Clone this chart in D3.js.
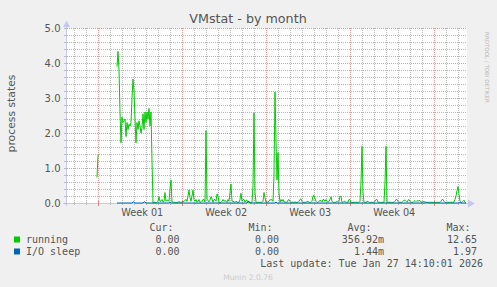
<!DOCTYPE html>
<html><head><meta charset="utf-8">
<script src="https://cdn.jsdelivr.net/npm/d3@7"></script>
<style>
html,body{margin:0;padding:0;background:#f0f0f0;}
svg{display:block;}
</style></head>
<body>
<svg id="chart" width="497" height="287"></svg>
<script>
// ---------- data ----------
const title = "VMstat - by month";
const yLabel = "process states";
const yTickValues = [0, 1, 2, 3, 4, 5];
const weekLabels = ["Week 01", "Week 02", "Week 03", "Week 04"];
const seriesNames = ["running", "I/O sleep"];
const seriesColors = ["#00cc00", "#0066b3"];
const legendHeaders = ["Cur:", "Min:", "Avg:", "Max:"];
const runningStats = ["0.00", "0.00", "356.92m", "12.65"];
const ioSleepStats = ["0.00", "0.00", "1.44m", "1.97"];
const lastUpdate = "Last update: Tue Jan 27 14:10:01 2026";
const footer = "Munin 2.0.76";
const sideText = "RRDTOOL / TOBI OETIKER";
// time window (UTC), one sample every 2 hours
const windowStart = new Date(Date.UTC(2025, 11, 26, 9, 24));
const windowEnd = new Date(Date.UTC(2026, 0, 28, 17, 24));
const dataStart = new Date(Date.UTC(2025, 11, 28, 21, 24));
const stepHours = 2;
const running = [
  0.73,1.36,1.37,null,null,null,null,null,null,null,
  null,null,null,null,null,null,null,null,null,null,
  3.9,4.33,3.8,2.6,1.72,2.45,2.3,2.35,2.4,1.9,
  2.3,2.1,2.25,2.2,2.3,3.0,3.54,3.2,2.4,1.72,
  2.3,2.1,2.35,2.2,2.0,2.15,2.55,2.1,2.6,2.3,
  2.6,2.4,2.7,2.2,2.6,1.2,0,0.02,0.02,0,
  0.02,0.05,0.18,0.04,0.06,0.1,0.03,0.05,0.3,0.05,
  0.08,0.08,0.05,0.4,0.66,0.03,0.02,0.02,0.02,0,
  0.02,0.02,0.04,0.02,0.02,0.03,0.05,0.04,0.08,0.1,
  0.05,0.2,0.37,0.15,0.05,0.2,0.37,0.1,0.05,0.1,
  0.02,0.05,0.1,0.02,0.02,0.05,0.1,0.1,0.03,2.07,
  0.1,0.08,0.03,0.08,0.18,0.12,0.02,0.1,0.1,0.05,
  0.26,0.2,0.02,0,0.02,0.05,0.1,0.05,0.07,0.05,
  0.02,0.1,0.05,0.3,0.54,0.05,0.05,0.03,0.02,0.05,
  0.03,0.02,0.02,0.1,0.28,0.05,0.1,0.1,0.03,0.08,
  0.08,0.02,0.02,0.02,0,0.02,0.5,2.57,0.3,0.02,
  0.02,0.02,0.02,0.02,0.02,0.02,0.05,0.3,0.15,0.02,
  0.02,0.03,0.05,0.1,0.08,0.1,0.05,0.8,3.17,1.8,
  0.66,1.44,0.3,0.02,0.1,0.05,0.1,0.03,0.03,0.02,
  0.02,0.08,0.1,0.05,0.02,0.02,0.02,0.02,0.03,0.02,
  0.02,0.02,0.05,0.1,0.12,0.05,0.02,0.02,0.02,0.02,
  0.05,0.04,0.02,0.02,0.02,0.05,0.2,0.22,0.13,0.05,
  0.02,0.02,0.05,0.07,0.07,0.03,0.1,0.1,0.05,0.1,
  0.05,0.02,0.05,0.1,0.18,0.05,0.02,0.02,0.02,0.02,
  0.05,0.02,0.05,0.2,0.18,0.02,0.02,0.05,0.05,0.02,
  0.02,0.02,0.1,0.1,0.02,0,0.02,0.02,0.02,0.02,
  0.02,0.02,0.02,0.05,0.6,1.62,0.3,0.02,0.02,0.02,
  0.04,0.05,0.02,0.02,0.02,0.02,0.02,0.02,0.05,0.1,
  0.1,0.02,0.02,0.02,0.02,0.02,0.02,0.02,0.6,1.62,
  0.02,0.02,0.02,0.02,0.02,0.02,0.02,0.02,0.05,0.1,
  0.1,0.05,0.02,0.02,0.02,0.02,0.05,0.08,0.08,0.05,
  0.02,0.08,0.1,0.05,0.02,0.02,0.02,0.05,0.07,0.04,
  0.07,0.05,0.07,0.07,0.03,0.02,0.04,0.04,0.03,0.02,
  0.02,0.02,0.02,0.02,0.02,0.02,0.02,0.02,0.02,0.02,
  0.02,0.02,0.02,0.02,0.05,0.1,0.1,0.05,0.02,0.02,
  0.02,0.02,0.02,0.02,0.02,0.02,0.02,0.03,0.1,0.2,
  0.35,0.47,0.25,0.05,0.02,0.02,0.05,0.08,0.02,0
];
const ioSleep = [
  null,null,null,null,null,null,null,null,null,null,
  null,null,null,null,null,null,null,null,null,null,
  0,0,0,0,0,0,0,0,0,0,
  0,0,0,0,0,0,0.03,0.03,0,0,
  0,0,0,0,0,0,0,0.03,0.03,0,
  0,0,0,0,0,0,0,0,0,0,
  0,0,0,0,0,0,0,0,0,0,
  0,0,0,0.02,0,0,0,0,0,0,
  0,0,0,0,0,0,0,0,0,0,
  0,0,0,0,0,0,0,0,0,0,
  0,0,0,0,0,0,0,0,0,0,
  0,0,0,0,0,0,0,0,0,0,
  0,0,0,0,0,0,0,0,0,0,
  0,0,0,0,0,0,0,0,0,0,
  0,0,0,0,0,0,0,0,0,0,
  0,0.04,0.05,0,0,0,0,0,0,0,
  0,0,0,0,0,0,0,0,0,0,
  0,0,0,0,0,0,0,0,0,0.03,
  0,0,0,0,0,0,0,0,0,0,
  0,0,0,0,0,0,0,0,0,0,
  0,0,0,0,0,0,0,0,0,0,
  0,0,0,0,0,0,0,0,0,0,
  0,0,0,0,0,0,0,0,0,0,
  0,0,0,0,0,0,0,0,0,0,
  0,0,0,0,0,0,0,0,0,0,
  0,0,0,0,0,0,0,0,0,0,
  0,0,0,0,0,0,0,0,0,0,
  0,0,0,0,0,0,0,0,0,0,
  0,0,0,0,0,0,0,0,0,0,
  0,0,0,0,0,0,0,0,0,0,
  0,0,0,0,0,0,0,0,0,0,
  0,0,0,0,0,0,0,0,0,0,
  0,0,0,0,0,0,0,0,0,0,
  0.02,0,0,0,0,0,0,0,0,0,
  0,0,0,0,0,0,0,0,0,0,
  0,0,0,0,0,0,0,0,0,0,
  0,0,0,0.02,0,0,0,0,0,0
];

// ---------- layout ----------
const svg = d3.select("#chart");
const L = 67, R = 467, T = 28, B = 203;
const font = "'DejaVu Sans', sans-serif";
const mono = "'DejaVu Sans Mono', monospace";
const textCol = "#555";
const axisCol = "#c4c8f2";
const minorCol = "#b8b8b8";
const majorCol = "#e49a9a";

svg.append("rect").attr("width", 497).attr("height", 287).attr("fill", "#f0f0f0");
svg.append("rect").attr("x", L).attr("y", T).attr("width", R - L).attr("height", B - T).attr("fill", "#fff");

const x = d3.scaleUtc().domain([windowStart, windowEnd]).range([L, R]);
const y = d3.scaleLinear().domain([0, 5]).range([B, T]);
const px = v => Math.round(v) + 0.5;

// grid
const grid = svg.append("g").attr("shape-rendering", "crispEdges").attr("stroke-width", 1);
const minorY = y.ticks(25);
const days = d3.utcDay.range(windowStart, windowEnd);
const mondays = d3.utcMonday.range(windowStart, windowEnd);
const mondaySet = new Set(mondays.map(d => +d));
const hMinor = minorY.filter(v => Math.abs(v - Math.round(v)) > 1e-6 );
const vMinor = days.filter(d => !mondaySet.has(+d));
grid.append("path")
  .attr("d", hMinor.map(v => `M${L},${px(y(v))}H${R}`).join("") + vMinor.map(d => `M${px(x(d))},${T}V${B}`).join(""))
  .attr("fill", "none").attr("stroke", minorCol).attr("stroke-dasharray", "1,1");
grid.append("path")
  .attr("d", yTickValues.filter(v => v > 0).map(v => `M${L},${px(y(v))}H${R}`).join("") + mondays.map(d => `M${px(x(d))},${T}V${B}`).join(""))
  .attr("fill", "none").attr("stroke", majorCol).attr("stroke-dasharray", "1,1");

// axes lines + arrows
svg.append("line").attr("x1", L - 4).attr("x2", 470).attr("y1", B + 0.5).attr("y2", B + 0.5).attr("stroke", axisCol);
svg.append("line").attr("x1", L - 0.5).attr("x2", L - 0.5).attr("y1", B + 3).attr("y2", 24).attr("stroke", axisCol);
svg.append("path").attr("d", `M468,199.5L475,203.5L468,207.5Z`).attr("fill", axisCol);
svg.append("path").attr("d", `M63,27L66.5,20.5L70,27Z`).attr("fill", axisCol);
// ticks on axes
const ticks = svg.append("g").attr("shape-rendering", "crispEdges");
ticks.append("path").attr("d", vMinor.map(d => `M${px(x(d))},${B - 1}V${B + 2}`).join(""))
  .attr("stroke", "#bbb").attr("fill", "none");
ticks.append("path").attr("d", mondays.map(d => `M${px(x(d))},${B - 2}V${B + 3}`).join(""))
  .attr("stroke", "#e08080").attr("fill", "none");
ticks.append("path").attr("d", minorY.map(v => `M${L - 3},${px(y(v))}H${L}`).join(""))
  .attr("stroke", "#bbb").attr("fill", "none");

// y axis labels
const yAxis = svg.append("g").attr("transform", `translate(${L},0)`)
  .call(d3.axisLeft(y).tickValues(yTickValues).tickFormat(d3.format(".1f")).tickSize(0).tickPadding(6.5));
yAxis.select(".domain").remove();
yAxis.selectAll("text").attr("font-family", font).attr("font-size", 10).attr("fill", textCol).attr("dy", "0.36em");

// x axis labels (centered in each week)
const weekMids = mondays.slice(0, weekLabels.length).map(d => d3.utcHour.offset(d, 87));
const xAxis = svg.append("g").attr("transform", `translate(0,${B})`)
  .call(d3.axisBottom(x).tickValues(weekMids).tickFormat((d, i) => weekLabels[i]).tickSize(0).tickPadding(6));
xAxis.select(".domain").remove();
xAxis.selectAll("text").attr("font-family", font).attr("font-size", 9.7).attr("fill", textCol);

// series
const toPts = arr => arr.map((v, i) => ({ t: d3.utcHour.offset(dataStart, i * stepHours), v }));
const line = d3.line().defined(d => d.v != null).x(d => x(d.t)).y(d => y(d.v));
[running, ioSleep].forEach((arr, k) => {
  svg.append("path").attr("d", line(toPts(arr))).attr("fill", "none")
    .attr("stroke", seriesColors[k]).attr("stroke-width", 1);
});

// title and labels
svg.append("text").attr("x", 248).attr("y", 23).attr("text-anchor", "middle")
  .attr("font-family", font).attr("font-size", 12.7).attr("fill", textCol).text(title);
svg.append("text").attr("transform", "translate(14.5,113.5) rotate(-90)").attr("text-anchor", "middle")
  .attr("font-family", font).attr("font-size", 10.8).attr("fill", textCol).text(yLabel);
svg.append("text").attr("transform", "translate(485,67.5) rotate(90)").attr("text-anchor", "middle")
  .attr("font-family", font).attr("font-size", 5.5).attr("fill", "#bbb").text(sideText);

// legend
const headerEnds = [173.5, 272.5, 371.5, 470.5];
const valueEnds = [179.5, 279, 384, 477];
svg.selectAll(".lh").data(legendHeaders).enter().append("text")
  .attr("x", (d, i) => headerEnds[i]).attr("y", 230.7).attr("text-anchor", "end")
  .attr("font-family", mono).attr("font-size", 10).attr("fill", textCol).text(d => d);
[runningStats, ioSleepStats].forEach((stats, k) => {
  const yy = 242.7 + k * 12;
  svg.append("rect").attr("x", 14).attr("y", yy - 6.2).attr("width", 6).attr("height", 6).attr("fill", seriesColors[k]);
  svg.append("text").attr("x", 26).attr("y", yy).attr("font-family", mono).attr("font-size", 10)
    .attr("fill", textCol).text(seriesNames[k]);
  svg.selectAll(".lv" + k).data(stats).enter().append("text")
    .attr("x", (d, i) => valueEnds[i]).attr("y", yy).attr("text-anchor", "end")
    .attr("font-family", mono).attr("font-size", 10).attr("fill", textCol).text(d => d);
});
svg.append("text").attr("x", 483).attr("y", 266.7).attr("text-anchor", "end")
  .attr("font-family", mono).attr("font-size", 10).attr("fill", textCol).text(lastUpdate);
svg.append("text").attr("x", 248).attr("y", 279.5).attr("text-anchor", "middle")
  .attr("font-family", font).attr("font-size", 7.6).attr("fill", "#ccc").text(footer);
</script>
</body></html>
